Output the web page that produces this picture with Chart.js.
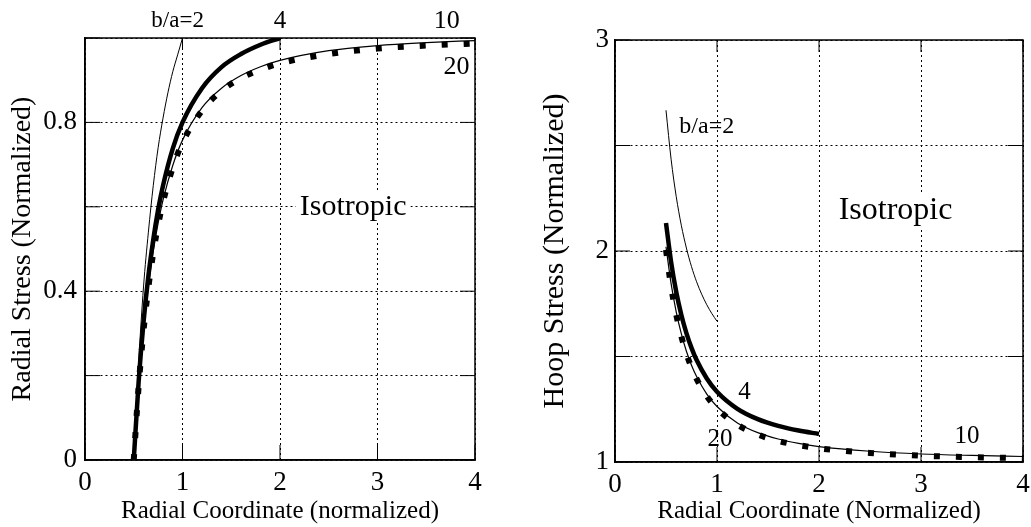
<!DOCTYPE html>
<html>
<head>
<meta charset="utf-8">
<script src="https://cdn.jsdelivr.net/npm/chart.js@4.4.1/dist/chart.umd.min.js"></script>
<style>
  html, body { margin: 0; padding: 0; background: #fff; }
  #wrap { position: relative; width: 1031px; height: 527px; }
  #radial { position: absolute; left: 0; top: 0; }
  #hoop { position: absolute; left: 515px; top: 0; }
</style>
</head>
<body>
<div id="wrap">
  <canvas id="radial" width="515" height="527"></canvas>
  <canvas id="hoop" width="516" height="527"></canvas>
</div>
<script>
// radial coordinates
var rB2 = [0.5, 0.55, 0.6, 0.65, 0.7, 0.75, 0.8, 0.85, 0.9, 0.95, 1.0];
var rB4 = [0.5, 0.55, 0.6, 0.65, 0.7, 0.75, 0.8, 0.9, 1.0, 1.2, 1.4, 1.6, 1.8, 2.0];
var rLong = [0.5, 0.55, 0.6, 0.65, 0.7, 0.75, 0.8, 0.9, 1.0, 1.2, 1.4, 1.6, 1.8, 2.0, 2.5, 3.0, 3.5, 4.0];

// radial stress (left panel)
var radialB2 = [0, 0.23, 0.41, 0.54, 0.65, 0.74, 0.81, 0.87, 0.92, 0.96, 1.0];
var radialB4 = [0, 0.185, 0.326, 0.436, 0.522, 0.593, 0.65, 0.738, 0.80, 0.881, 0.931, 0.962, 0.984, 1.0];
var radialB10 = [0, 0.175, 0.309, 0.412, 0.495, 0.561, 0.616, 0.698, 0.758, 0.835, 0.881, 0.911, 0.932, 0.947, 0.970, 0.982, 0.989, 0.994];
var radialB20 = [0, 0.174, 0.306, 0.409, 0.491, 0.557, 0.611, 0.693, 0.752, 0.828, 0.875, 0.905, 0.925, 0.940, 0.962, 0.975, 0.982, 0.987];

// hoop stress (right panel)
var hoopB2 = [2.667, 2.435, 2.259, 2.122, 2.014, 1.926, 1.854, 1.795, 1.745, 1.703, 1.667];
var hoopB4 = [2.133, 1.948, 1.807, 1.698, 1.611, 1.541, 1.483, 1.396, 1.333, 1.252, 1.203, 1.171, 1.149, 1.133];
var hoopB10 = [2.020, 1.845, 1.712, 1.608, 1.525, 1.459, 1.405, 1.322, 1.263, 1.185, 1.139, 1.109, 1.088, 1.073, 1.051, 1.038, 1.031, 1.026];
var hoopB20 = [2.005, 1.831, 1.699, 1.596, 1.514, 1.448, 1.394, 1.312, 1.253, 1.177, 1.130, 1.100, 1.080, 1.065, 1.043, 1.030, 1.023, 1.018];

// tick labels that are printed
var xTickLabels = ['0', '1', '2', '3', '4'];
var radialTickLabels = ['0', '0.4', '0.8'];
var hoopTickLabels = ['1', '2', '3'];

Chart.defaults.font.family = "'Liberation Serif', 'Times New Roman', serif";
Chart.defaults.color = '#000';

function pts(xs, ys) {
  return xs.map(function (x, i) { return { x: x, y: ys[i] }; });
}

function curve(data, width, dash, order) {
  return {
    data: data,
    borderColor: '#000',
    borderWidth: width,
    borderDash: dash || [],
    pointRadius: 0,
    cubicInterpolationMode: 'monotone',
    fill: false,
    order: order
  };
}

// solid frame, inward tick marks and the text notes
var framePlugin = {
  id: 'frame',
  afterDatasetsDraw: function (chart) {
    var ctx = chart.ctx, a = chart.chartArea;
    var xs = chart.scales.x, ys = chart.scales.y;
    ctx.save();
    ctx.strokeStyle = '#000';
    ctx.lineWidth = 1;
    xs.ticks.forEach(function (t) {
      var px = xs.getPixelForValue(t.value);
      ctx.beginPath();
      ctx.moveTo(px, a.bottom); ctx.lineTo(px, a.bottom - 15);
      ctx.moveTo(px, a.top); ctx.lineTo(px, a.top + 12);
      ctx.stroke();
    });
    ys.ticks.forEach(function (t) {
      var py = ys.getPixelForValue(t.value);
      ctx.beginPath();
      ctx.moveTo(a.left, py); ctx.lineTo(a.left + 15, py);
      ctx.moveTo(a.right, py); ctx.lineTo(a.right - 15, py);
      ctx.stroke();
    });
    ctx.lineWidth = 1.5;
    ctx.strokeRect(a.left, a.top, a.right - a.left, a.bottom - a.top);

    var notes = chart.options.plugins.frame.notes || [];
    ctx.textAlign = 'center';
    ctx.textBaseline = 'middle';
    notes.forEach(function (n) {
      var px = xs.getPixelForValue(n.x), py = ys.getPixelForValue(n.y);
      ctx.font = n.size + "px 'Liberation Serif', serif";
      if (n.box) {
        var w = ctx.measureText(n.text).width;
        ctx.fillStyle = '#fff';
        ctx.fillRect(px - w / 2 - 4, py - n.size * 0.5, w + 8, n.size);
      }
      ctx.fillStyle = '#000';
      ctx.fillText(n.text, px, py);
    });
    ctx.restore();
  }
};

function pinScale(w, h) {
  return function (scale) {
    if (w) scale.width = w;
    if (h) scale.height = h;
    scale.paddingTop = 0; scale.paddingBottom = 0;
    scale.paddingLeft = 0; scale.paddingRight = 0;
  };
}

function tickFilter(labels) {
  return function (v) {
    var s = String(Math.round(v * 10) / 10);
    return labels.indexOf(s) >= 0 ? s : '';
  };
}

function makeChart(id, cfg) {
  return new Chart(document.getElementById(id), {
    type: 'line',
    data: { datasets: cfg.datasets },
    options: {
      responsive: false,
      animation: false,
      layout: { padding: cfg.padding },
      plugins: {
        legend: { display: false },
        tooltip: { enabled: false },
        frame: { notes: cfg.notes }
      },
      scales: {
        x: {
          type: 'linear', min: 0, max: 4,
          afterFit: pinScale(0, cfg.xHeight),
          grid: { color: '#000', lineWidth: 1, drawTicks: false },
          border: { display: true, color: '#000', width: 1.5, dash: [2, 3] },
          ticks: { stepSize: 1, padding: 7, font: { size: 27 }, callback: tickFilter(xTickLabels) },
          title: { display: true, text: cfg.xTitle, font: { size: 25 }, padding: { top: 0, bottom: 1 } }
        },
        y: {
          type: 'linear', min: cfg.yMin, max: cfg.yMax,
          afterFit: pinScale(cfg.yWidth, 0),
          grid: { color: '#000', lineWidth: 1, drawTicks: false },
          border: { display: true, color: '#000', width: 1.5, dash: [2, 3] },
          ticks: { stepSize: cfg.yStep, padding: cfg.yTickPad, font: { size: 27 }, callback: tickFilter(cfg.yLabels) },
          title: { display: true, text: cfg.yTitle, font: { size: cfg.yTitleSize }, padding: { top: cfg.yTitlePad, bottom: 0 } }
        }
      }
    },
    plugins: [framePlugin]
  });
}

makeChart('radial', {
  padding: { left: 0, right: 40, top: 38, bottom: 0 },
  xHeight: 67, yWidth: 85, yTickPad: 8,
  yMin: 0, yMax: 1, yStep: 0.2, yLabels: radialTickLabels,
  xTitle: 'Radial Coordinate (normalized)',
  yTitle: 'Radial Stress (Normalized)', yTitleSize: 28, yTitlePad: 6,
  datasets: [
    curve(pts(rLong, radialB20), 6, [6, 16], 4),
    curve(pts(rLong, radialB10), 1.2, null, 1),
    curve(pts(rB4, radialB4), 4.5, null, 2),
    curve(pts(rB2, radialB2), 1, null, 3)
  ],
  notes: [
    { text: 'b/a=2', x: 0.95, y: 1.04, size: 23 },
    { text: '4', x: 2.0, y: 1.04, size: 25 },
    { text: '10', x: 3.71, y: 1.04, size: 26 },
    { text: '20', x: 3.81, y: 0.93, size: 26 },
    { text: 'Isotropic', x: 2.75, y: 0.6, size: 30, box: true }
  ]
});

makeChart('hoop', {
  padding: { left: 0, right: 8, top: 40, bottom: 0 },
  xHeight: 65, yWidth: 100, yTickPad: 6,
  yMin: 1, yMax: 3, yStep: 0.5, yLabels: hoopTickLabels,
  xTitle: 'Radial Coordinate (Normalized)',
  yTitle: 'Hoop Stress (Normalized)', yTitleSize: 30, yTitlePad: 22,
  datasets: [
    curve(pts(rLong, hoopB20), 6, [6, 16], 4),
    curve(pts(rLong, hoopB10), 1.2, null, 1),
    curve(pts(rB4, hoopB4), 4.5, null, 2),
    curve(pts(rB2, hoopB2), 1, null, 3)
  ],
  notes: [
    { text: 'b/a=2', x: 0.9, y: 2.59, size: 24 },
    { text: '4', x: 1.27, y: 1.33, size: 25 },
    { text: '20', x: 1.03, y: 1.105, size: 25 },
    { text: '10', x: 3.45, y: 1.12, size: 25 },
    { text: 'Isotropic', x: 2.75, y: 2.19, size: 32, box: true }
  ]
});
</script>
</body>
</html>
